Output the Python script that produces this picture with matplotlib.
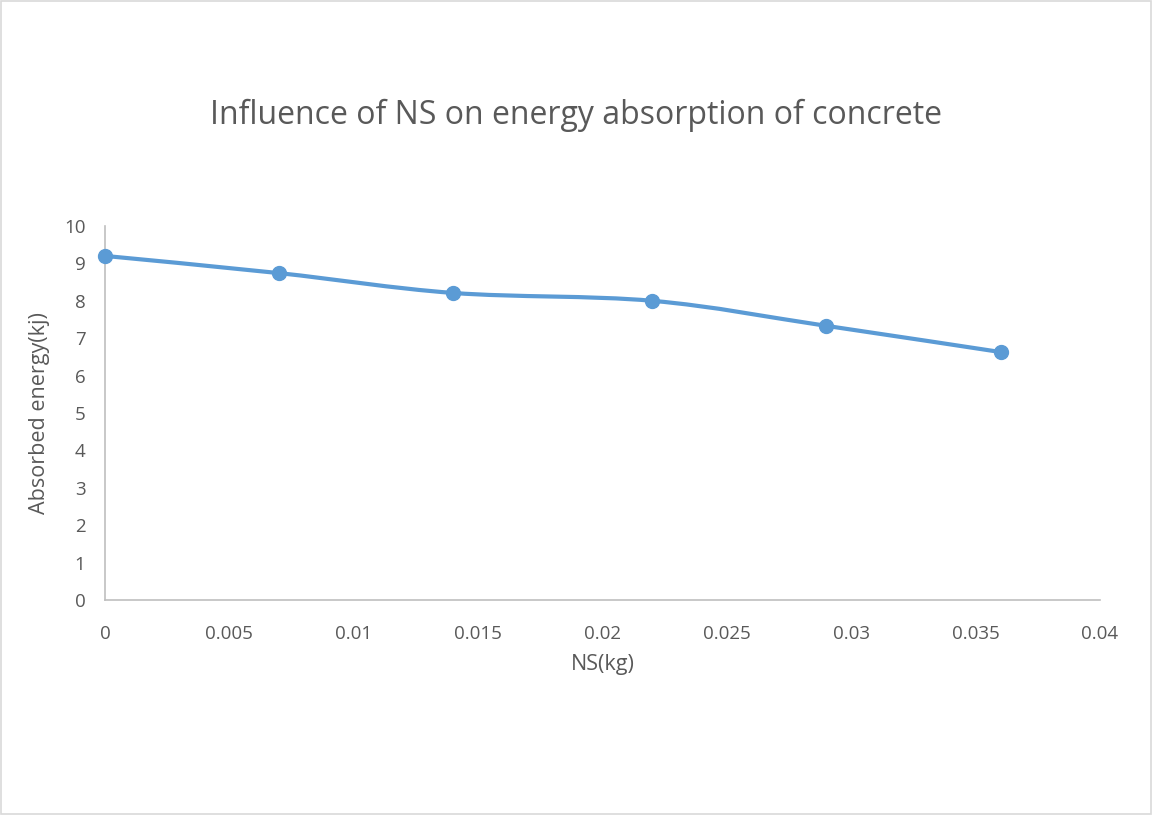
import matplotlib.pyplot as plt
from matplotlib.path import Path
from matplotlib.patches import PathPatch

ns_kg = [0, 0.007, 0.014, 0.022, 0.029, 0.036]
energy_kj = [9.2, 8.74, 8.21, 8.0, 7.33, 6.63]

x_ticks = [0, 0.005, 0.01, 0.015, 0.02, 0.025, 0.03, 0.035, 0.04]
x_labels = ['0', '0.005', '0.01', '0.015', '0.02', '0.025', '0.03', '0.035', '0.04']
y_ticks = list(range(0, 11))

plt.rcParams['font.family'] = ['Open Sans', 'DejaVu Sans']
text_color = '#595959'
line_color = '#5B9BD5'

fig = plt.figure(figsize=(11.52, 8.15), dpi=100)
ax = fig.add_axes([0.0911, 0.2638, 0.8638, 0.4589])

# smoothed line like Excel (bezier control points from neighbours)
verts = [(ns_kg[0], energy_kj[0])]
codes = [Path.MOVETO]
n = len(ns_kg)
for i in range(n - 1):
    p0 = (ns_kg[max(i - 1, 0)], energy_kj[max(i - 1, 0)])
    p1 = (ns_kg[i], energy_kj[i])
    p2 = (ns_kg[i + 1], energy_kj[i + 1])
    p3 = (ns_kg[min(i + 2, n - 1)], energy_kj[min(i + 2, n - 1)])
    c1 = (p1[0] + (p2[0] - p0[0]) / 6, p1[1] + (p2[1] - p0[1]) / 6)
    c2 = (p2[0] - (p3[0] - p1[0]) / 6, p2[1] - (p3[1] - p1[1]) / 6)
    verts += [c1, c2, p2]
    codes += [Path.CURVE4] * 3
ax.add_patch(PathPatch(Path(verts, codes), facecolor='none', edgecolor=line_color,
                       lw=3, capstyle='round', zorder=3, clip_on=False))
ax.plot(ns_kg, energy_kj, linestyle='none', marker='o', markersize=10,
        color=line_color, zorder=4, clip_on=False)

ax.set_xlim(0, 0.04)
ax.set_ylim(0, 10)
ax.set_xticks(x_ticks)
ax.set_xticklabels(x_labels)
ax.set_yticks(y_ticks)
ax.tick_params(length=0, labelsize=13.5, colors=text_color)
ax.tick_params(axis='x', pad=18)
ax.tick_params(axis='y', pad=14)

for side in ['top', 'right']:
    ax.spines[side].set_visible(False)
for side in ['left', 'bottom']:
    ax.spines[side].set_color('#BFBFBF')
    ax.spines[side].set_linewidth(1.2)

ax.set_xlabel('NS(kg)', fontsize=15.5, color=text_color, labelpad=8)
ax.set_ylabel('Absorbed energy(kj)', fontsize=15.5, color=text_color, labelpad=10)
fig.text(0.5, 0.859, 'Influence of NS on energy absorption of concrete',
         ha='center', va='center', fontsize=23, color=text_color)

# light frame around the chart area
fig.patches.append(plt.Rectangle((0.001, 0.001), 0.998, 0.998, transform=fig.transFigure,
                                 fill=False, edgecolor='#D9D9D9', lw=1.2))

fig.savefig('out.png', dpi=100)
